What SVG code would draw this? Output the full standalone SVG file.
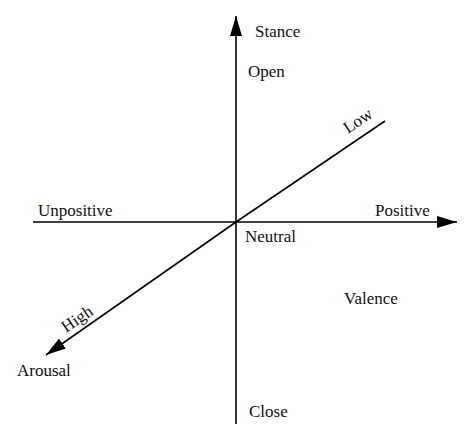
<svg xmlns="http://www.w3.org/2000/svg" width="474" height="440" viewBox="0 0 474 440">
<style>
.ax{stroke:#000;stroke-width:1.6;fill:none}
.t{font-family:"Liberation Serif",serif;font-size:17px;fill:#111}
</style>
<defs>
<marker id="ah" viewBox="0 0 20 12" refX="20" refY="6" markerWidth="20" markerHeight="12" markerUnits="userSpaceOnUse" orient="auto">
<path d="M0,0 L20,6 L0,12 Z" fill="#000"/>
</marker>
</defs>
<rect width="474" height="440" fill="#fff"/>
<g id="connectors">
<line class="ax" x1="236" y1="424" x2="236" y2="16" marker-end="url(#ah)"/>
<line class="ax" x1="33" y1="222" x2="457" y2="222" marker-end="url(#ah)"/>
<line class="ax" x1="385" y1="121" x2="236" y2="222"/>
<line class="ax" x1="236" y1="222" x2="46" y2="355" marker-end="url(#ah)"/>
</g>
<g id="stance"><text class="t" x="255" y="37">Stance</text></g>
<g id="open"><text class="t" x="248" y="77">Open</text></g>
<g id="low"><text class="t" x="0" y="0" transform="translate(348,134) rotate(-34)">Low</text></g>
<g id="positive"><text class="t" x="375" y="216">Positive</text></g>
<g id="unpositive"><text class="t" x="38" y="216">Unpositive</text></g>
<g id="neutral"><text class="t" x="245" y="242">Neutral</text></g>
<g id="valence"><text class="t" x="344" y="304">Valence</text></g>
<g id="high"><text class="t" x="0" y="0" transform="translate(66,333) rotate(-34)">High</text></g>
<g id="arousal"><text class="t" x="17" y="376">Arousal</text></g>
<g id="close"><text class="t" x="249" y="417">Close</text></g>
</svg>
